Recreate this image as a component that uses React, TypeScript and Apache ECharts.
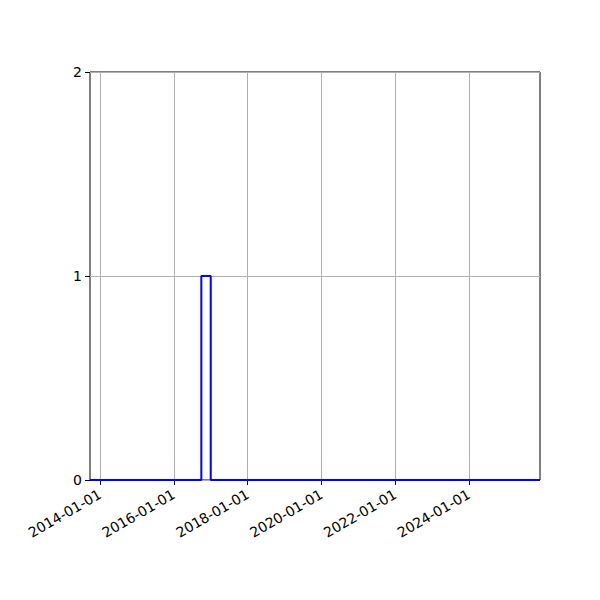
import { useEffect, useRef } from 'react';
import * as echarts from 'echarts';

// ---------------------------------------------------------------------------
// Data
// ---------------------------------------------------------------------------

// histogram bin edges (dates) and counts per bin
const binEdges = ['2013-09-24', '2016-09-30', '2017-01-01', '2025-12-04'];
const binCounts = [0, 1, 0];

const xTickLabels = ['2014-01-01', '2016-01-01', '2018-01-01', '2020-01-01', '2022-01-01', '2024-01-01'];
const yTicks = [0, 1, 2];

// ---------------------------------------------------------------------------
// Helpers
// ---------------------------------------------------------------------------

const ts = (d: string) => Date.parse(d + 'T00:00:00Z');

function pad(n: number) {
  return n < 10 ? '0' + n : String(n);
}

function fmtDate(v: number) {
  const d = new Date(v);
  return `${d.getUTCFullYear()}-${pad(d.getUTCMonth() + 1)}-${pad(d.getUTCDate())}`;
}

function stepPoints(): [number, number][] {
  const pts: [number, number][] = [];
  binCounts.forEach((c, i) => {
    pts.push([ts(binEdges[i]), c]);
    pts.push([ts(binEdges[i + 1]), c]);
  });
  return pts;
}

const FONT = 'DejaVu Sans';

function buildOption(): echarts.EChartsOption {
  const tickValues = xTickLabels.map(ts);
  return {
    animation: false,
    grid: {
      left: 90,
      right: 60,
      top: 72,
      bottom: 120,
      show: true,
      borderColor: '#000',
      borderWidth: 1,
      backgroundColor: 'transparent',
    },
    xAxis: {
      type: 'value',
      min: ts(binEdges[0]),
      max: ts(binEdges[binEdges.length - 1]),
      axisLine: { show: false },
      axisTick: {
        show: true,
        length: 5,
        lineStyle: { color: '#000' },
        customValues: tickValues,
      } as any,
      axisLabel: {
        customValues: tickValues,
        rotate: 30,
        margin: 13,
        color: '#000',
        fontSize: 14,
        fontFamily: FONT,
        formatter: (v: number) => fmtDate(v),
      } as any,
      splitLine: { show: true, lineStyle: { color: '#b0b0b0', width: 1 } },
    },
    yAxis: {
      type: 'value',
      min: 0,
      max: 2,
      interval: 1,
      axisLine: { show: false },
      axisTick: { show: true, length: 5, lineStyle: { color: '#000' } },
      axisLabel: {
        color: '#000',
        fontSize: 14,
        fontFamily: FONT,
        margin: 8,
        formatter: (v: number) => (yTicks.includes(v) ? String(v) : ''),
      },
      splitLine: { show: true, lineStyle: { color: '#b0b0b0', width: 1 } },
    },
    series: [
      {
        type: 'line',
        data: stepPoints(),
        showSymbol: false,
        symbol: 'none',
        lineStyle: { color: '#0000ff', width: 2 },
        z: 5,
      },
    ],
  };
}

// ---------------------------------------------------------------------------
// Component
// ---------------------------------------------------------------------------

export default function App() {
  const containerRef = useRef<HTMLDivElement | null>(null);

  useEffect(() => {
    if (!containerRef.current) return;
    const chart = echarts.init(containerRef.current, undefined, { renderer: 'svg' });
    chart.setOption(buildOption());
    return () => {
      chart.dispose();
    };
  }, []);

  return (
    <div
      ref={containerRef}
      style={{ width: 600, height: 600, margin: -8, background: '#fff' }}
    />
  );
}
